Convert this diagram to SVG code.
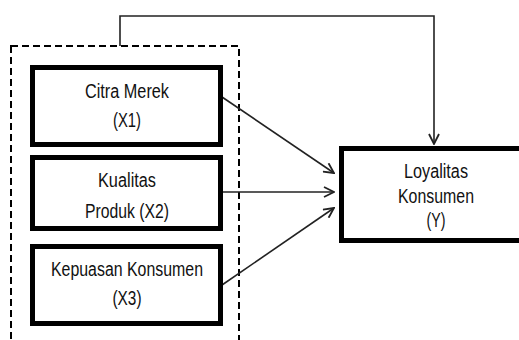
<svg xmlns="http://www.w3.org/2000/svg" width="519" height="340" viewBox="0 0 519 340">
<style>
.box{fill:#fff;stroke:#000;stroke-width:5}
.t{font-family:"Liberation Sans","Arial",sans-serif;font-size:20px;fill:#111;text-anchor:middle}
.c{fill:none;stroke:#222;stroke-width:1.6}
</style>
<defs>
<marker id="ah" viewBox="0 0 12 12" refX="11" refY="6" markerWidth="12" markerHeight="12" markerUnits="userSpaceOnUse" orient="auto">
<polyline points="1,1 11,6 1,11" fill="none" stroke="#222" stroke-width="1.8"/>
</marker>
</defs>
<rect x="0" y="0" width="519" height="340" fill="#fff"/>
<g id="group-x">
<rect x="11" y="46" width="228" height="320" fill="none" stroke="#000" stroke-width="2" stroke-dasharray="7,4"/>
</g>
<g id="connectors">
<polyline class="c" points="120,46 120,16 434,16 434,144" marker-end="url(#ah)"/>
<line class="c" x1="222" y1="97" x2="334" y2="173" marker-end="url(#ah)"/>
<line class="c" x1="222" y1="192" x2="334" y2="192" marker-end="url(#ah)"/>
<line class="c" x1="222" y1="285" x2="334" y2="208" marker-end="url(#ah)"/>
</g>
<g id="x1">
<rect class="box" x="32.5" y="67.5" width="188" height="77"/>
<text class="t" x="127" y="98" textLength="84" lengthAdjust="spacingAndGlyphs">Citra Merek</text>
<text class="t" x="127" y="127" textLength="28" lengthAdjust="spacingAndGlyphs">(X1)</text>
</g>
<g id="x2">
<rect class="box" x="32.5" y="157.5" width="188" height="71"/>
<text class="t" x="127" y="187" textLength="58" lengthAdjust="spacingAndGlyphs">Kualitas</text>
<text class="t" x="127" y="218" textLength="84" lengthAdjust="spacingAndGlyphs">Produk (X2)</text>
</g>
<g id="x3">
<rect class="box" x="32.5" y="246.5" width="188" height="77"/>
<text class="t" x="127" y="276" textLength="152" lengthAdjust="spacingAndGlyphs">Kepuasan Konsumen</text>
<text class="t" x="127" y="305" textLength="29" lengthAdjust="spacingAndGlyphs">(X3)</text>
</g>
<g id="y">
<rect class="box" x="341.5" y="148.5" width="200" height="92"/>
<text class="t" x="436" y="178" textLength="64" lengthAdjust="spacingAndGlyphs">Loyalitas</text>
<text class="t" x="436" y="203" textLength="76" lengthAdjust="spacingAndGlyphs">Konsumen</text>
<text class="t" x="436" y="227" textLength="19" lengthAdjust="spacingAndGlyphs">(Y)</text>
</g>
</svg>
